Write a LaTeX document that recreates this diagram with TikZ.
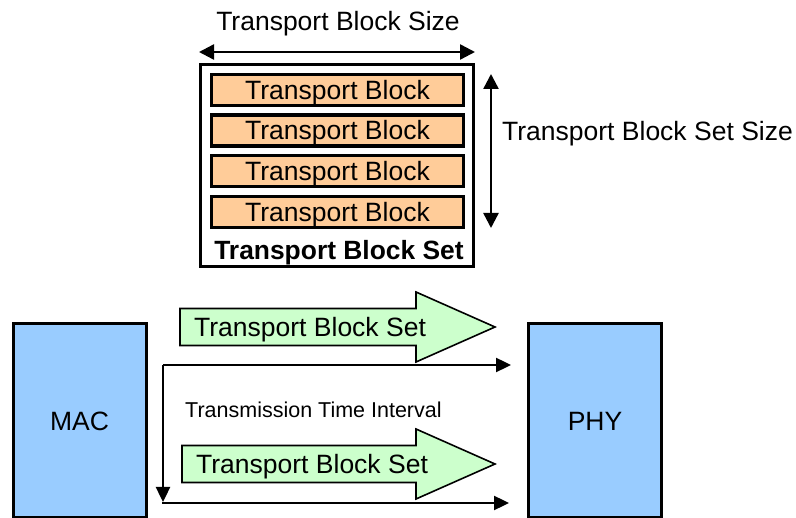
\documentclass[tikz,border=0pt]{standalone}
\usepackage{fontspec}
\setmainfont{Liberation Sans}
\usetikzlibrary{arrows.meta}
\definecolor{blockfill}{RGB}{255,204,153}
\definecolor{setfill}{RGB}{204,255,204}
\definecolor{layerfill}{RGB}{153,204,255}

\begin{document}
\begin{tikzpicture}[x=1pt,y=-1pt,
  big/.style={font=\fontsize{26.5}{30}\selectfont, text height=19pt, text depth=0pt, inner sep=0pt},
  small/.style={font=\fontsize{21.5}{25}\selectfont, text height=15.4pt, text depth=0pt, inner sep=0pt},
  tblock/.style={big, draw, line width=3.2pt, fill=blockfill, minimum width=252pt, minimum height=31pt},
  layer/.style={big, draw, line width=3pt, fill=layerfill, minimum width=133pt, minimum height=194pt},
  setarrow/.style={draw, line width=1.6pt, fill=setfill, line join=miter},
  tip/.style={-{Triangle[length=15pt,width=14pt]}},
  dtip/.style={{Triangle[length=15pt,width=15pt]}-{Triangle[length=15pt,width=15pt]}},
  conn/.style={line width=2.4pt}
]
\useasboundingbox (0,0) rectangle (796,518);
\clip (0,0) rectangle (796,518);

% transport block set with its blocks
\node[draw, line width=3pt, fill=white, minimum width=273pt, minimum height=202pt] (tbs) at (337,165.5) {};
\node[tblock] (b1) at (337.5,90) {Transport Block};
\node[tblock] (b2) at (337.5,130.5) {Transport Block};
\node[tblock] (b3) at (337.5,171) {Transport Block};
\node[tblock] (b4) at (337.5,212) {Transport Block};
\node[big, font=\fontsize{26.4}{30}\selectfont\bfseries] (setlbl) at (339,250) {Transport Block Set};

% size annotations
\node[big] (sizelbl) at (338,21.5) {Transport Block Size};
\coordinate (szL) at (199,52);
\coordinate (szR) at (475,52);
\draw[conn, dtip] (szL) -- (szR);

\coordinate (stT) at (491,74);
\coordinate (stB) at (491,228);
\draw[conn, dtip] (stT) -- (stB);
\node[big, anchor=west] (setsizelbl) at (502,131) {Transport Block Set Size};

% layers
\node[layer] (mac) at (79.5,421) {MAC};
\node[layer] (phy) at (595,421) {PHY};

% transport block set arrows between the layers
\draw[setarrow] (180,308.5) -- (416,308.5) -- (416,292) -- (495,327) -- (416,362) -- (416,345.5) -- (180,345.5) -- cycle;
\node[big, anchor=west] (tbs1) at (194,327) {Transport Block Set};
\draw[setarrow] (182,445.5) -- (416,445.5) -- (416,429) -- (495,464) -- (416,499) -- (416,482.5) -- (182,482.5) -- cycle;
\node[big, anchor=west] (tbs2) at (196,464) {Transport Block Set};

% transmission time interval
\coordinate (ttiCorner) at (163,365);
\coordinate (ttiEnd) at (511,365);
\coordinate (ttiDown) at (163,502);
\coordinate (nextStart) at (162,503);
\coordinate (nextEnd) at (509,503);
\draw[conn, tip] (ttiCorner) -- (ttiEnd);
\draw[conn, tip] (ttiCorner) -- (ttiDown);
\draw[conn, tip] (nextStart) -- (nextEnd);
\node[small, anchor=west] (ttilbl) at (185,410) {Transmission Time Interval};
\end{tikzpicture}
\end{document}
